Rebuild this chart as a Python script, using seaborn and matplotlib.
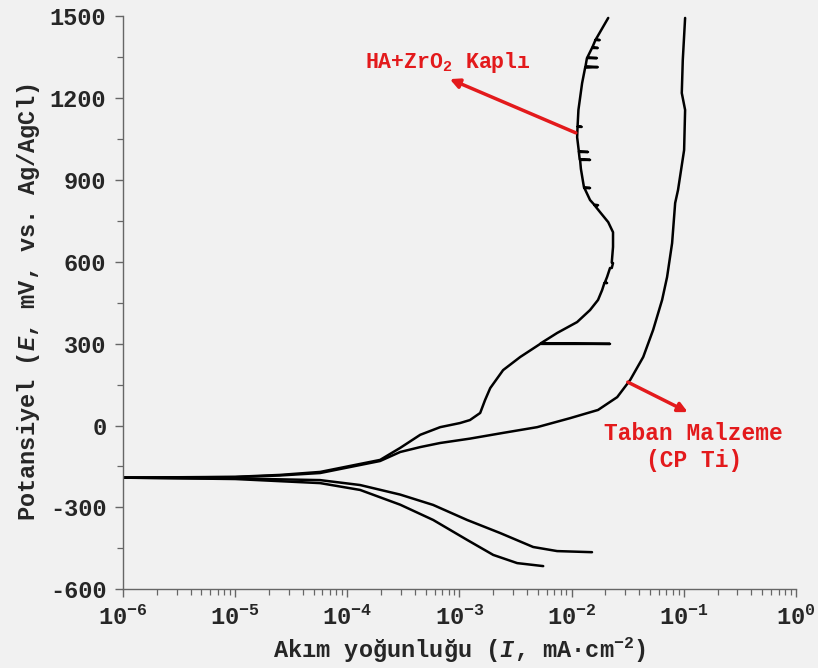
import matplotlib
matplotlib.use("Agg")
import matplotlib.pyplot as plt
import numpy as np
import seaborn as sns
from matplotlib.ticker import MultipleLocator, LogLocator, NullFormatter

# --- data (I in mA/cm2, E in mV) ---
# HA+ZrO2 coated, anodic branch (small horizontal spikes kept as in the scan)
coated_anodic_I = [1.0e-6, 1.0e-5, 2.5e-5, 5.73e-5, 1.06e-4, 1.96e-4, 2.96e-4, 4.47e-4, 6.73e-4,
                   1.01e-3, 1.24e-3, 1.53e-3, 1.69e-3, 1.88e-3, 2.45e-3, 3.48e-3, 5.25e-3, 0.0220,
                   5.30e-3, 7.43e-3, 0.0112, 0.0146, 0.0172, 0.0187, 0.0196, 0.0207, 0.0198,
                   0.0207, 0.0220, 0.0228, 0.0234, 0.0228, 0.0234, 0.0234, 0.0212, 0.0179, 0.0160,
                   0.0172, 0.0159, 0.0146, 0.0130, 0.0146, 0.0129, 0.0127, 0.0121, 0.0119, 0.0146,
                   0.0118, 0.0116, 0.0140, 0.0116, 0.0112, 0.0113, 0.0123, 0.0113, 0.0115, 0.0124,
                   0.0132, 0.0171, 0.0133, 0.0137, 0.0168, 0.0138, 0.0152, 0.0171, 0.0153, 0.0163,
                   0.0178, 0.0164, 0.0169, 0.0212]
coated_anodic_E = [-191, -188, -181, -170, -148, -126, -82, -34, -6,
                   9, 20, 46, 93, 137, 203, 251, 299, 299,
                   301, 339, 379, 423, 460, 496, 522, 522, 524,
                   544, 577, 577, 595, 597, 654, 708, 745, 782, 807,
                   807, 809, 826, 870, 870, 872, 888, 940, 973, 973,
                   975, 1002, 1002, 1004, 1056, 1094, 1094, 1096, 1156, 1254,
                   1311, 1313, 1316, 1346, 1346, 1348, 1383, 1383, 1385, 1412,
                   1412, 1414, 1423, 1493]

# CP Ti substrate, anodic branch
base_anodic_I = [1.0e-6, 1.0e-5, 2.5e-5, 5.73e-5, 1.96e-4, 2.96e-4, 4.47e-4, 6.73e-4, 1.24e-3,
                 2.45e-3, 4.93e-3, 9.70e-3, 0.0172, 0.0255, 0.0333, 0.0435, 0.0533, 0.0641,
                 0.0710, 0.0787, 0.0838, 0.0889, 0.1007, 0.1028, 0.0960, 0.0980, 0.1028]
base_anodic_E = [-191, -189, -183, -174, -130, -97, -79, -64, -48,
                 -27, -6, 27, 57, 104, 167, 251, 350, 460,
                 544, 668, 815, 863, 1009, 1156, 1218, 1339, 1493]

# cathodic branches
cath_upper_I = [1.0e-6, 1.0e-5, 5.73e-5, 1.30e-4, 2.96e-4, 5.83e-4, 1.17e-3, 2.31e-3, 4.54e-3,
                7.43e-3, 0.0152]
cath_upper_E = [-191, -194, -200, -218, -253, -291, -346, -394, -445, -460, -464]

cath_lower_I = [1.0e-6, 1.0e-5, 5.73e-5, 1.30e-4, 2.96e-4, 5.83e-4, 1.17e-3, 2.00e-3, 3.27e-3,
                5.58e-3]
cath_lower_E = [-191, -196, -211, -236, -290, -346, -419, -474, -504, -515]

x_ticks = [1e-6, 1e-5, 1e-4, 1e-3, 1e-2, 1e-1, 1e0]
x_tick_labels = ["10$^{-6}$", "10$^{-5}$", "10$^{-4}$", "10$^{-3}$", "10$^{-2}$", "10$^{-1}$", "10$^{0}$"]
y_ticks = [-600, -300, 0, 300, 600, 900, 1200, 1500]

bg = "#f1f1f1"
red = "#e31a1c"

sns.set_style("ticks")
plt.rcParams["font.family"] = ["Liberation Mono", "DejaVu Sans"]
plt.rcParams["font.weight"] = "bold"
plt.rcParams["axes.unicode_minus"] = False
plt.rcParams["mathtext.fontset"] = "custom"
plt.rcParams["mathtext.rm"] = "Liberation Mono:bold"
plt.rcParams["mathtext.it"] = "Liberation Mono:bold:italic"
plt.rcParams["mathtext.bf"] = "Liberation Mono:bold"

fig = plt.figure(figsize=(8.18, 6.68), dpi=100, facecolor=bg)
ax = fig.add_axes([0.1504, 0.1178, 0.8226, 0.8582], facecolor=bg)

for xs, ys in [(coated_anodic_I, coated_anodic_E), (base_anodic_I, base_anodic_E),
               (cath_upper_I, cath_upper_E), (cath_lower_I, cath_lower_E)]:
    sns.lineplot(x=xs, y=ys, sort=False, estimator=None, color="black", linewidth=1.8, ax=ax)

ax.set_xscale("log")
ax.set_xlim(1e-6, 1)
ax.set_ylim(-600, 1500)
ax.set_xticks(x_ticks)
ax.set_xticklabels(x_tick_labels)
ax.xaxis.set_minor_locator(LogLocator(base=10, subs=np.arange(2, 10)))
ax.xaxis.set_minor_formatter(NullFormatter())
ax.set_yticks(y_ticks)
ax.yaxis.set_minor_locator(MultipleLocator(150))

for s in ["top", "right"]:
    ax.spines[s].set_visible(False)
for s in ["left", "bottom"]:
    ax.spines[s].set_color("#666666")
    ax.spines[s].set_linewidth(1.0)
ax.tick_params(which="major", direction="out", length=6, width=1.0, color="#666666",
               labelsize=17, pad=6)
ax.tick_params(which="minor", direction="out", length=4.5, width=0.9, color="#666666")

ax.set_xlabel("Akım yoğunluğu ($I$, mA·cm$^{-2}$)", fontsize=17, fontweight="bold", labelpad=4)
ax.set_ylabel("Potansiyel ($E$, mV, vs. Ag/AgCl)", fontsize=17, fontweight="bold", labelpad=6)

ax.annotate("", xy=(8.2e-4, 1269), xytext=(0.0109, 1072),
            arrowprops=dict(arrowstyle="-|>", color=red, lw=2.5, mutation_scale=14,
                            shrinkA=0, shrinkB=0))
ax.text(7.9e-4, 1331, "HA+ZrO$_2$ Kaplı", color=red, fontsize=15.5, fontweight="bold",
        ha="center", va="center")

ax.annotate("", xy=(0.1086, 49), xytext=(0.0317, 159),
            arrowprops=dict(arrowstyle="-|>", color=red, lw=2.5, mutation_scale=14,
                            shrinkA=0, shrinkB=0))
ax.text(0.1228, -79, "Taban Malzeme\n(CP Ti)", color=red, fontsize=16.5, fontweight="bold",
        ha="center", va="center", linespacing=1.2)

fig.savefig("out.png", dpi=100, facecolor=bg)
